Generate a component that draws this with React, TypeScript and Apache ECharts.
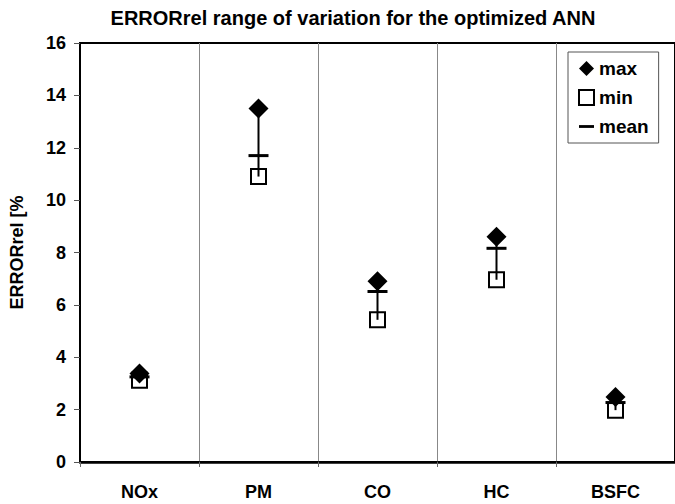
import React, { useEffect, useRef } from "react";
import * as echarts from "echarts";

const categories = ["NOx", "PM", "CO", "HC", "BSFC"];
const maxValues = [3.38, 13.5, 6.9, 8.6, 2.48];
const minValues = [3.12, 10.9, 5.43, 6.96, 1.98];
const meanValues = [3.25, 11.7, 6.51, 8.16, 2.27];
const yTicks = { min: 0, max: 16, interval: 2 };

const FONT = "'Liberation Sans', Arial, Helvetica, sans-serif";

export default function App() {
  const ref = useRef<HTMLDivElement>(null);
  useEffect(() => {
    if (!ref.current) return;
    const chart = echarts.init(ref.current, null, { renderer: "svg" });
    const meanIcon = "path://M0,0H16V3H0Z";
    chart.setOption({
      animation: false,
      backgroundColor: "#fff",
      title: {
        text: "ERRORrel range of variation for the optimized ANN",
        left: 348,
        textAlign: "center",
        top: 3,
        textStyle: { fontFamily: FONT, fontWeight: "bold", fontSize: 20, color: "#000" },
      },
      legend: {
        orient: "vertical",
        left: 568,
        top: 52,
        backgroundColor: "#fff",
        borderColor: "#555",
        borderWidth: 1,
        padding: [7, 10, 7, 10],
        itemGap: 10,
        itemWidth: 15,
        itemHeight: 15,
        textStyle: { fontFamily: FONT, fontWeight: "bold", fontSize: 19, color: "#000" },
        data: [
          { name: "max", icon: "diamond", itemStyle: { color: "#000", opacity: 1 } },
          { name: "min", icon: "rect" },
          { name: "mean", icon: meanIcon, itemStyle: { color: "#000", opacity: 1 } },
        ],
      },
      grid: {
        left: 80,
        top: 43,
        width: 601,
        height: 419,
        show: true,
        borderColor: "#000",
        borderWidth: 2,
        backgroundColor: "transparent",
      },
      xAxis: {
        type: "category",
        data: categories,
        boundaryGap: true,
        axisLine: { lineStyle: { color: "#000", width: 2.5 } },
        axisTick: { show: true, length: 5, lineStyle: { color: "#666", width: 1 } },
        axisLabel: {
          margin: 21,
          fontFamily: FONT,
          fontWeight: "bold",
          fontSize: 18,
          color: "#000",
        },
        splitLine: { show: true, lineStyle: { color: "#888", width: 1 } },
      },
      yAxis: {
        type: "value",
        min: yTicks.min,
        max: yTicks.max,
        interval: yTicks.interval,
        name: "ERRORrel [%",
        nameLocation: "middle",
        nameGap: 54,
        nameTextStyle: { fontFamily: FONT, fontWeight: "bold", fontSize: 18, color: "#000" },
        axisLine: { show: true, lineStyle: { color: "#000", width: 2 } },
        axisTick: { show: true, length: 6, lineStyle: { color: "#555", width: 1 } },
        axisLabel: {
          margin: 14,
          fontFamily: FONT,
          fontWeight: "bold",
          fontSize: 18,
          color: "#000",
        },
        splitLine: { show: false },
      },
      series: [
        {
          name: "min",
          type: "scatter",
          symbol: "rect",
          symbolSize: 15,
          itemStyle: { color: "#fff", borderColor: "#000", borderWidth: 2, opacity: 1 },
          data: minValues,
          z: 2,
        },
        {
          name: "range",
          type: "custom",
          data: categories.map((_, i) => [i, minValues[i], maxValues[i]]),
          encode: { x: 0, y: [1, 2] },
          renderItem: (params: any, api: any) => {
            const lo = api.coord([api.value(0), api.value(1)]);
            const hi = api.coord([api.value(0), api.value(2)]);
            return {
              type: "line",
              shape: { x1: lo[0], y1: lo[1], x2: hi[0], y2: hi[1] },
              style: { stroke: "#000", lineWidth: 2 },
            };
          },
          z: 3,
        },
        {
          name: "max",
          type: "scatter",
          symbol: "diamond",
          symbolSize: [20, 20],
          itemStyle: { color: "#000", opacity: 1 },
          data: maxValues,
          z: 4,
        },
        {
          name: "mean",
          type: "scatter",
          symbol: "rect",
          symbolSize: [20, 3],
          itemStyle: { color: "#000", opacity: 1 },
          data: meanValues,
          z: 5,
        },
      ],
    });
    return () => chart.dispose();
  }, []);
  return (
    <div
      ref={ref}
      style={{ position: "fixed", left: 0, top: 0, width: 675, height: 504 }}
    />
  );
}
